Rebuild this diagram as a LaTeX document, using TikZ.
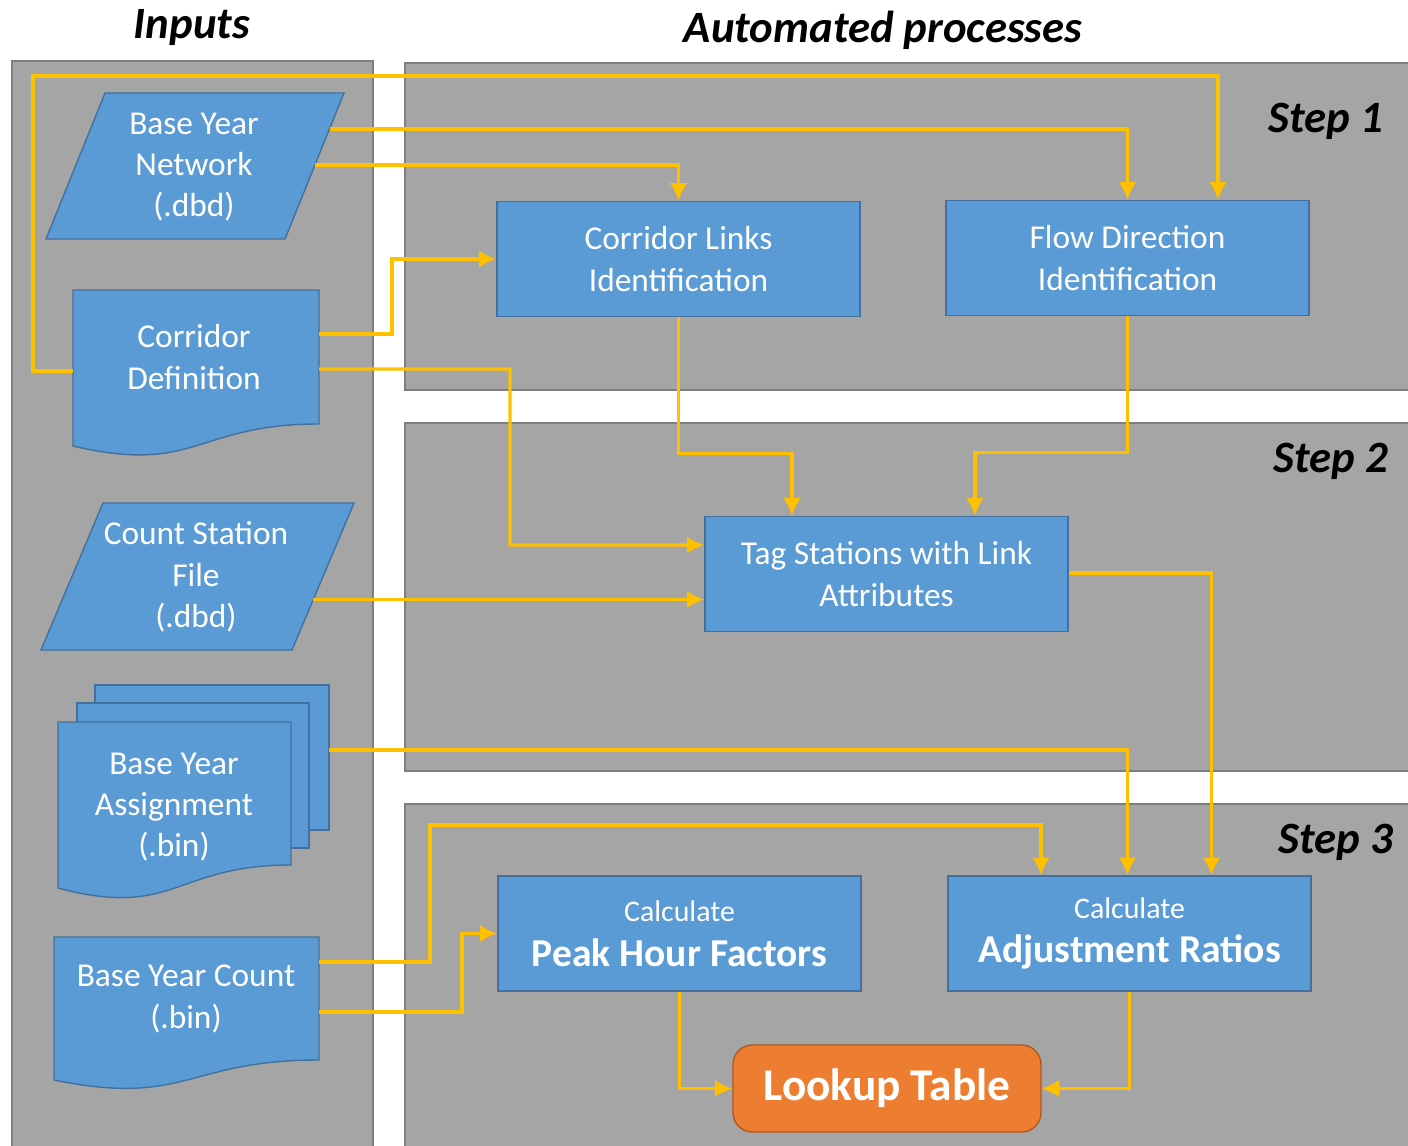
\documentclass[tikz,border=0pt]{standalone}
\usepackage{fontspec}
\setmainfont{Carlito}
\usetikzlibrary{arrows.meta}

\definecolor{panelgray}{HTML}{A5A5A5}
\definecolor{panelline}{HTML}{7F7F7F}
\definecolor{boxblue}{HTML}{5B9BD5}
\definecolor{boxline}{HTML}{41719C}
\definecolor{lutorange}{HTML}{ED7D31}
\definecolor{lutline}{HTML}{AE5A21}
\definecolor{flowyellow}{HTML}{FFC000}

\begin{document}
\begin{tikzpicture}[x=0.02cm, y=-0.02cm,
    panel/.style={fill=panelgray, draw=panelline, line width=0.8pt},
    inshape/.style={fill=boxblue, draw=boxline, line width=0.8pt},
    intext/.style={text=white, align=center, font=\fontsize{19}{23.5}\selectfont},
    proc/.style={rectangle, draw=boxline, fill=boxblue, line width=0.8pt, text=white,
      minimum width=7.26cm, minimum height=2.3cm, align=center, font=\fontsize{19}{23.5}\selectfont},
    lut/.style={rectangle, draw=lutline, fill=lutorange, line width=0.8pt, rounded corners=11pt,
      text=white, minimum width=6.16cm, minimum height=1.74cm, font=\fontsize{25.8}{30}\selectfont\bfseries},
    head/.style={font=\fontsize{25.5}{30}\selectfont\bfseries\itshape},
    arrow/.style={-{Latex[length=10pt,width=10pt]}, line width=1.8pt, flowyellow}
  ]
    \useasboundingbox (0,0) rectangle (1408,1145);
    \fill[white] (0,0) rectangle (1408,1145);

    % column panels
    \draw[panel] (12,61) rectangle (373,1160);
    \draw[panel] (405,63) rectangle (1420,390);
    \draw[panel] (405,423) rectangle (1420,771);
    \draw[panel] (405,804) rectangle (1420,1160);

    \node[head] (hin)  at (192,28) {Inputs};
    \node[head] (hauto) at (883,30) {Automated processes};
    \node[head] (s1) at (1326,121) {Step 1};
    \node[head] (s2) at (1331,461) {Step 2};
    \node[head] (s3) at (1336,842) {Step 3};

    % input files
    \draw[inshape] (105,93) -- (344,93) -- (285,239) -- (46,239) -- cycle;
    \node[intext] (net) at (194,167) {Base Year\\Network\\(.dbd)};
    \coordinate (net-a) at (329.5,129);
    \coordinate (net-b) at (315,165);

    \draw[inshape] (73,290) -- (319,290) -- (319,424) .. controls (196,424) and (196,475) .. (73,446) -- cycle;
    \node[intext] (cdef) at (194,357) {Corridor\\Definition};
    \coordinate (cdef-w) at (73,371);
    \coordinate (cdef-a) at (319,334);
    \coordinate (cdef-b) at (319,369);

    \draw[inshape] (103,503) -- (354,503) -- (292,650) -- (41,650) -- cycle;
    \node[intext] (csf) at (196,577) {Count Station\\File\\(.dbd)};
    \coordinate (csf-e) at (313,599.5);

    \draw[inshape] (95,685) rectangle (329,830);
    \draw[inshape] (77,703) rectangle (309,848);
    \draw[inshape] (58,722) -- (291,722) -- (291,865) .. controls (174.5,865) and (174.5,919) .. (58,888) -- cycle;
    \node[intext] (asg) at (174,807) {Base Year\\Assignment\\(.bin)};
    \coordinate (asg-e) at (329,750);

    \draw[inshape] (54,937) -- (319,937) -- (319,1060) .. controls (186.5,1060) and (186.5,1107) .. (54,1080) -- cycle;
    \node[intext] (cnt) at (186,999) {Base Year Count\\(.bin)};
    \coordinate (cnt-a) at (319,962);
    \coordinate (cnt-b) at (319,1012);

    % processes
    \node[proc] (links) at (678.5,259) {Corridor Links\\Identification};
    \node[proc] (flow)  at (1127.5,258) {Flow Direction\\Identification};
    \node[proc] (tag)   at (886.5,574) {Tag Stations with Link\\Attributes};
    \node[proc] (phf)   at (679.5,933.5) {{\fontsize{17}{20}\selectfont Calculate}\\[2pt]{\fontsize{22.5}{24}\selectfont\bfseries Peak Hour Factors}};
    \node[proc] (adj)   at (1129.5,933.5) {{\fontsize{17}{20}\selectfont Calculate}\\[2pt]{\fontsize{22.5}{24}\selectfont\bfseries Adjustment Ratios}};
    \node[lut]  (table) at (887,1088.5) {Lookup Table};

    % data flow
    \draw[arrow] (cdef-w) -| (33,76) -| ([xshift=1.81cm]flow.north);
    \draw[arrow] (net-a) -| (flow.north);
    \draw[arrow] (net-b) -| (links.north);
    \draw[arrow] (cdef-a) -| (392,259) -- (links.west);
    \draw[arrow] (cdef-b) -| (510,545) -- ([yshift=0.58cm]tag.west);
    \draw[arrow] (csf-e) -- (csf-e -| tag.west);
    \draw[arrow] (links.south) -- ++(0,136) -| ([xshift=-1.89cm]tag.north);
    \draw[arrow] (flow.south) -- ++(0,136) -| ([xshift=1.77cm]tag.north);
    \draw[arrow] ([yshift=0.02cm]tag.east) -| ([xshift=1.64cm]adj.north);
    \draw[arrow] (asg-e) -| ([xshift=-0.04cm]adj.north);
    \draw[arrow] (cnt-a) -| (430,825) -| ([xshift=-1.77cm]adj.north);
    \draw[arrow] (cnt-b) -| (462,933.5) -- (phf.west);
    \draw[arrow] (phf.south) |- (table.west);
    \draw[arrow] (adj.south) |- (table.east);
\end{tikzpicture}
\end{document}
